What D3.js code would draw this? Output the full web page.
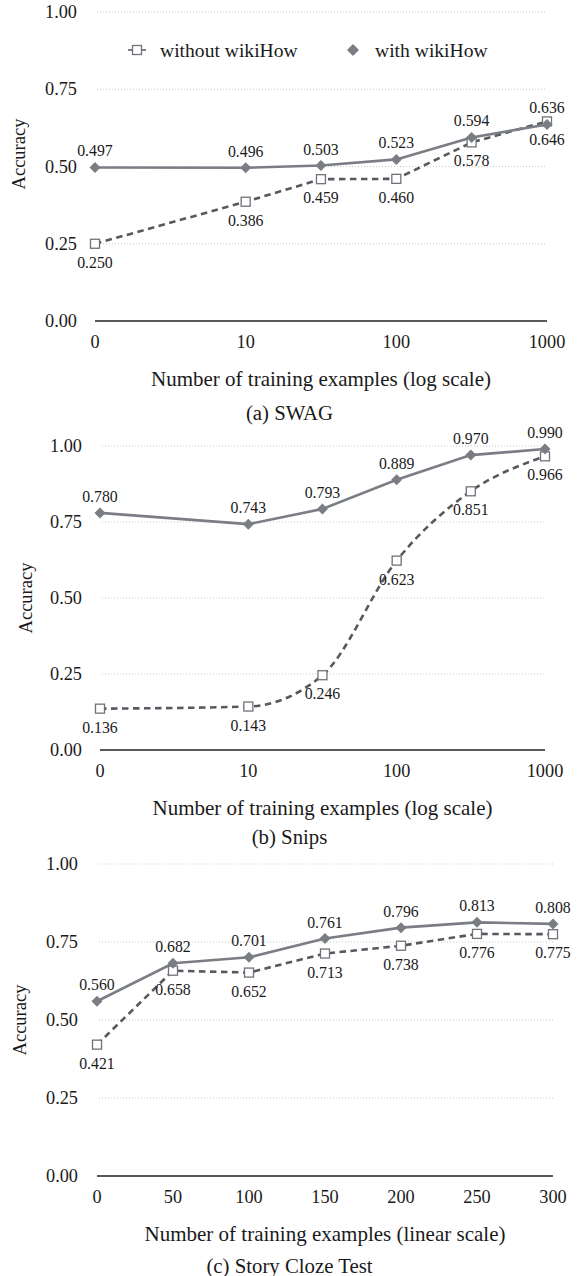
<!DOCTYPE html>
<html><head><meta charset="utf-8">
<script src="https://cdn.jsdelivr.net/npm/d3@7"></script>
</head>
<body style="margin:0;background:#fff">
<svg id="chart" width="579" height="1276" style="display:block;font-family:'Liberation Serif'"></svg>
<script>
// ---- data ----
const logX = [0, 10, 31.6, 100, 316, 1000];
const swagWithout = [0.250, 0.386, 0.459, 0.460, 0.578, 0.646];
const swagWith    = [0.497, 0.496, 0.503, 0.523, 0.594, 0.636];
const snipsWithout = [0.136, 0.143, 0.246, 0.623, 0.851, 0.966];
const snipsWith    = [0.780, 0.743, 0.793, 0.889, 0.970, 0.990];
const clozeX = [0, 50, 100, 150, 200, 250, 300];
const clozeWithout = [0.421, 0.658, 0.652, 0.713, 0.738, 0.776, 0.775];
const clozeWith    = [0.560, 0.682, 0.701, 0.761, 0.796, 0.813, 0.808];
const yTicks = [0, 0.25, 0.5, 0.75, 1.0];
const logTicks = [0, 10, 100, 1000];
const linTicks = [0, 50, 100, 150, 200, 250, 300];
const seriesNames = ["without wikiHow", "with wikiHow"];
const xTitles = ["Number of training examples (log scale)", "Number of training examples (log scale)", "Number of training examples (linear scale)"];
const captions = ["(a) SWAG", "(b) Snips", "(c) Story Cloze Test"];
const yTitle = "Accuracy";

const FONT = "Liberation Serif";
const TXT = "#1a1a1a";
const SOLID = "#7a7d84", DASH = "#56595f", SQ = "#6f7279";

const svg = d3.select("#chart");
function T(sel) { return sel.style("font-family", FONT).attr("fill", TXT); }

const panels = [
  {xs: logX, without: swagWithout, withW: swagWith, log: true, ticks: logTicks,
   x0: 95, x1: 547, yTop: 12, yBot: 321, tickR: 77, accX: 19, accY: 154, capY: 412, legend: true, smooth: false},
  {xs: logX, without: snipsWithout, withW: snipsWith, log: true, ticks: logTicks,
   x0: 100, x1: 545, yTop: 446, yBot: 750, tickR: 82, accX: 26, accY: 598, capY: 836, legend: false, smooth: true},
  {xs: clozeX, without: clozeWithout, withW: clozeWith, log: false, ticks: linTicks,
   x0: 97, x1: 553, yTop: 864, yBot: 1176, tickR: 78, accX: 20, accY: 1020, capY: 1265, legend: false, smooth: false}
];

panels.forEach((p, i) => {
  const g = svg.append("g");
  let xs;
  if (p.log) {
    const s = d3.scaleLog().domain([1, 1000]).range([p.x0, p.x1]);
    xs = v => s(Math.max(v, 1));
  } else {
    const s = d3.scaleLinear().domain([0, 300]).range([p.x0, p.x1]);
    xs = v => s(v);
  }
  const y = d3.scaleLinear().domain([0, 1]).range([p.yBot, p.yTop]);

  // gridlines
  g.selectAll("line.grid").data(yTicks.filter(t => t > 0)).join("line")
    .attr("x1", p.x0 + 2).attr("x2", p.x1)
    .attr("y1", d => y(d)).attr("y2", d => y(d))
    .attr("stroke", "#c8c8c8").attr("stroke-width", 1).attr("stroke-dasharray", "1,2");
  // zero axis line
  g.append("line").attr("x1", p.x0).attr("x2", p.x1).attr("y1", y(0)).attr("y2", y(0))
    .attr("stroke", "#595959").attr("stroke-width", 2);

  // y tick labels
  T(g.selectAll("text.yt").data(yTicks).join("text"))
    .attr("x", p.tickR).attr("y", d => y(d)).attr("text-anchor", "end")
    .attr("dominant-baseline", "central").attr("font-size", 18.3)
    .text(d => d3.format(".2f")(d));
  // x tick labels
  T(g.selectAll("text.xt").data(p.ticks).join("text"))
    .attr("x", d => xs(d)).attr("y", y(0) + 21).attr("text-anchor", "middle")
    .attr("dominant-baseline", "central").attr("font-size", 18.3)
    .text(d => d);
  // axis titles
  T(g.append("text")).attr("x", (p.x0 + p.x1) / 2).attr("y", y(0) + 57.5)
    .attr("text-anchor", "middle").attr("dominant-baseline", "central")
    .attr("font-size", 21).text(xTitles[i]);
  T(g.append("text")).attr("transform", `translate(${p.accX},${p.accY}) rotate(-90)`)
    .attr("text-anchor", "middle").attr("dominant-baseline", "central")
    .attr("font-size", 18.5).text(yTitle);
  // caption
  T(svg.append("text")).attr("x", 289.5).attr("y", p.capY).attr("text-anchor", "middle")
    .attr("dominant-baseline", "central").attr("font-size", 20.8).text(captions[i]);

  const ptsWithout = p.xs.map((v, k) => [xs(v), y(p.without[k]), p.without[k]]);
  const ptsWith = p.xs.map((v, k) => [xs(v), y(p.withW[k]), p.withW[k]]);

  const lineStraight = d3.line().x(d => d[0]).y(d => d[1]);
  const lineSmooth = d3.line().x(d => d[0]).y(d => d[1]).curve(d3.curveMonotoneX);

  g.append("path").attr("d", (p.smooth ? lineSmooth : lineStraight)(ptsWithout))
    .attr("fill", "none").attr("stroke", DASH).attr("stroke-width", 2.6)
    .attr("stroke-dasharray", "6.5,4.5");
  g.append("path").attr("d", lineStraight(ptsWith))
    .attr("fill", "none").attr("stroke", SOLID).attr("stroke-width", 2.6);

  // markers
  g.selectAll("rect.sq").data(ptsWithout).join("rect")
    .attr("x", d => d[0] - 4.5).attr("y", d => d[1] - 4.5).attr("width", 9).attr("height", 9)
    .attr("fill", "#fff").attr("stroke", SQ).attr("stroke-width", 1.3);
  g.selectAll("path.dm").data(ptsWith).join("path")
    .attr("d", d => `M${d[0]},${d[1]-5.5}L${d[0]+5.5},${d[1]}L${d[0]},${d[1]+5.5}L${d[0]-5.5},${d[1]}Z`)
    .attr("fill", SOLID);

  // data labels
  T(g.selectAll("text.lw").data(ptsWith).join("text"))
    .attr("x", d => d[0]).attr("y", d => d[1] - 11).attr("text-anchor", "middle")
    .attr("font-size", 15.8).text(d => d3.format(".3f")(d[2]));
  T(g.selectAll("text.lo").data(ptsWithout).join("text"))
    .attr("x", d => d[0]).attr("y", d => d[1] + 24).attr("text-anchor", "middle")
    .attr("font-size", 15.8).text(d => d3.format(".3f")(d[2]));

  if (p.legend) {
    const ly = 50;
    g.append("line").attr("x1", 128).attr("x2", 146).attr("y1", ly).attr("y2", ly)
      .attr("stroke", DASH).attr("stroke-width", 1.5);
    g.append("rect").attr("x", 137 - 4.5).attr("y", ly - 4.5).attr("width", 9).attr("height", 9)
      .attr("fill", "#fff").attr("stroke", SQ).attr("stroke-width", 1.3);
    T(g.append("text")).attr("x", 160).attr("y", ly).attr("dominant-baseline", "central")
      .attr("font-size", 19.6).text(seriesNames[0]);
    g.append("path").attr("d", `M353,${ly-6}L359,${ly}L353,${ly+6}L347,${ly}Z`).attr("fill", SOLID);
    T(g.append("text")).attr("x", 375).attr("y", ly).attr("dominant-baseline", "central")
      .attr("font-size", 19.6).text(seriesNames[1]);
  }
});
</script>
</body></html>
